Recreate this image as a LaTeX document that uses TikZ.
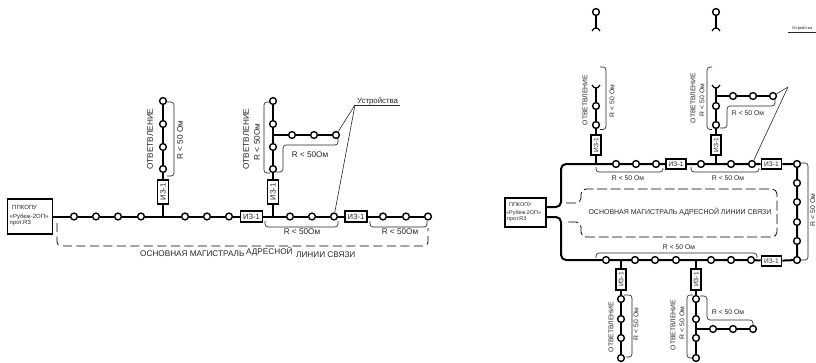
\documentclass[tikz,border=0pt]{standalone}
\usepackage{fontspec}
\setmainfont{Liberation Sans}
\newcommand{\fs}[1]{\fontsize{#1}{#1}\selectfont}
\tikzset{
  dev/.style={circle,draw=black,fill=white,line width=1.4pt,minimum size=6.8pt,inner sep=0pt},
  wire/.style={line width=2pt,draw=black},
  thin wire/.style={line width=0.6pt,draw=black!85},
  brace/.style={line width=0.65pt,draw=black!85,rounded corners=3pt},
  dashline/.style={line width=0.75pt,draw=black,rounded corners=4pt,dash pattern=on 9pt off 4.5pt},
  izbig/.style={draw=black,fill=white,line width=1.6pt,minimum width=22pt,minimum height=11pt,inner sep=0pt,font=\fs{7.6},text=black!85},
  izsmall/.style={draw=black,fill=white,line width=1.6pt,minimum width=20pt,minimum height=10.5pt,inner sep=0pt,font=\fs{6.6},text=black!85},
  panel/.style={draw=black,fill=white,line width=1.3pt,inner sep=0pt},
  lblbig/.style={inner sep=0pt,font=\fs{8.2},text=black!85},
  lblsmall/.style={inner sep=0pt,font=\fs{6.8},text=black!85},
  lbltiny/.style={inner sep=0pt,font=\fs{6},text=black!85,anchor=west},
  lblmini/.style={inner sep=0pt,font=\fs{5.4},text=black!85,anchor=west},
}
\begin{document}
\begin{tikzpicture}[x=1pt,y=-1pt]
\useasboundingbox (0,0) rectangle (816,362);
% ===== left diagram =====
\node[panel,minimum width=44.5pt,minimum height=35pt] (lp) at (30,216.5) {};
\node[lbltiny] (lp1) at (12,207) {ППКОПУ};
\node[lbltiny] (lp2) at (9.5,217) {«Рубеж-2ОП»};
\node[lbltiny] (lp3) at (9.5,223.5) {прот.R3};
\foreach \n/\x/\y in {a1/74/216.5,a2/96/216.5,a3/118/216.5,a4/141/216.5,a5/185/216.5,a6/207/216.5,a7/229/216.5,
  a8/290/216.5,a9/312/216.5,a10/334/216.5,a11/383/216.5,a12/406/216.5,a13/428/216.5,
  b1/163/101,b2/163/124,b3/163/147,b4/163/169,
  c1/273/101,c2/273/124,c3/273/147,c4/273/169,
  d1/292/135,d2/314/135,d3/336/135}
  \node[dev] (\n) at (\x,\y) {};
\node[izbig] (iza) at (251.5,216.5) {ИЗ-1};
\node[izbig] (izb) at (356,216.5) {ИЗ-1};
\node[izbig,rotate=90,minimum width=24pt] (izc) at (163,192) {ИЗ-1};
\node[izbig,rotate=90,minimum width=24pt] (izd) at (273,192) {ИЗ-1};
\coordinate (ja) at (163,216.5);
\coordinate (jb) at (273,216.5);
\coordinate (jc) at (273,135);
\draw[wire] (lp) -- (a1) -- (a2) -- (a3) -- (a4) -- (ja) -- (a5) -- (a6) -- (a7) -- (iza) -- (jb) -- (a8) -- (a9) -- (a10) -- (izb) -- (a11) -- (a12) -- (a13);
\draw[wire] (ja) -- (izc) -- (b4) -- (b3) -- (b2) -- (b1);
\draw[wire] (jb) -- (izd) -- (c4) -- (c3) -- (jc) -- (c2) -- (c1);
\draw[wire] (jc) -- (d1) -- (d2) -- (d3);
\draw[brace] (167,102) -- (174,102) -- (174,176) -- (167,176);
\draw[brace] (270,102) -- (264,102) -- (264,173) -- (270,173);
\draw[brace] (338,138) -- (338,145) -- (283,145) -- (283,172) -- (276,172);
\draw[brace] (265,221) -- (265,227) -- (338,227) -- (338,221);
\draw[brace] (370,221) -- (370,227) -- (427,227) -- (427,221);
\draw[dashline] (57,223) -- (57,246) -- (428,246) -- (428,228);
\node[lblbig,rotate=90] (l1) at (150,139) {ОТВЕТВЛЕНИЕ};
\node[lblbig,rotate=90] (l2) at (180,140) {R < 50 Ом};
\node[lblbig,rotate=90] (l3) at (246,139) {ОТВЕТВЛЕНИЕ};
\node[lblbig,rotate=90] (l4) at (257,142) {R < 50Ом};
\node[lblbig] (l5) at (310,155) {R < 50Ом};
\node[lblbig] (l6) at (302,232) {R < 50Ом};
\node[lblbig] (l7) at (400,232) {R < 50Ом};
\node[lblbig,anchor=west] (l8) at (140,254) {ОСНОВНАЯ МАГИСТРАЛЬ};
\node[lblbig,anchor=west] (l9) at (246,252) {АДРЕСНОЙ};
\node[lblbig,anchor=west] (l10) at (296,254.5) {ЛИНИИ СВЯЗИ};
\node[lblbig,anchor=west,font=\fs{7.8}] (ust) at (357,101.5) {Устройства};
\coordinate (usta) at (355,105);
\coordinate (ustb) at (400,105);
\draw[thin wire] (usta) -- (ustb);
\draw[thin wire] (usta) -- (d3);
\draw[thin wire] (usta) -- (a10);
% ===== right diagram =====
\node[panel,minimum width=41pt,minimum height=29pt] (rp) at (525.5,212.5) {};
\node[lblmini] (rp1) at (509,205) {ППКОПУ};
\node[lblmini] (rp2) at (506,213) {«Рубеж-2ОП»};
\node[lblmini] (rp3) at (507,219.5) {прот.R3};
\foreach \n/\x/\y in {e1/616/164,e2/636/164,e3/656/164,e4/701/164,e5/731/164,e6/752/164,e7/797/164,
  r1/797/183,r2/797/202,r3/797/222,r4/797/241,r5/797/260,
  f1/751/260,f2/731/260,f3/711/260,f4/676/260,f5/655/260,f6/635/260,f7/606/260,
  g1/596/12,g2/716/12,
  h1/596/106,h2/596/125,i1/716/106,i2/716/125,
  k1/733/96,k2/753/96,k3/773/96,
  m1/621/299,m2/621/319,m3/621/338,m4/621/358,
  n1/696/299,n2/696/319,n3/696/338,n4/696/358,
  o1/713/329,o2/733/329,o3/753/329}
  \node[dev] (\n) at (\x,\y) {};
\node[izsmall] (ize) at (676,164) {ИЗ-1};
\node[izsmall] (izf) at (771.5,164) {ИЗ-1};
\node[izsmall] (izg) at (771.5,261) {ИЗ-1};
\node[izsmall,rotate=90,minimum width=20.5pt] (izh) at (596,145) {ИЗ-1};
\node[izsmall,rotate=90,minimum width=20.5pt] (izi) at (716,145) {ИЗ-1};
\node[izsmall,rotate=90,minimum width=20.5pt] (izj) at (621,279.5) {ИЗ-1};
\node[izsmall,rotate=90,minimum width=20.5pt] (izk) at (696,279.5) {ИЗ-1};
\coordinate (ra) at (546,207);
\coordinate (rb) at (546,217);
\coordinate (rc) at (561,164);
\coordinate (rd) at (561,260);
\coordinate (rca) at (561,207);
\coordinate (rda) at (561,217);
\coordinate (je) at (596,164);
\coordinate (jf) at (716,164);
\coordinate (jg) at (621,260);
\coordinate (jh) at (696,260);
\coordinate (ji) at (716,96);
\coordinate (jj) at (696,329);
\coordinate (fa) at (596,88);
\coordinate (fb) at (716,88);
\coordinate (fc) at (596,28);
\coordinate (fd) at (716,28);
\draw[wire,rounded corners=5pt] (ra) -- (rca) -- (rc) -- (je);
\draw[wire,rounded corners=5pt] (rb) -- (rda) -- (rd) -- (f7);
\draw[wire] (je) -- (e1) -- (e2) -- (e3) -- (ize) -- (e4) -- (jf) -- (e5) -- (e6) -- (izf) -- (e7) -- (r1) -- (r2) -- (r3) -- (r4) -- (r5) -- (izg) -- (f1) -- (f2) -- (f3) -- (jh) -- (f4) -- (f5) -- (f6) -- (jg) -- (f7);
\draw[wire] (je) -- (izh) -- (h2) -- (h1) -- (fa);
\draw[wire] (jf) -- (izi) -- (i2) -- (i1) -- (ji) -- (fb);
\draw[wire] (ji) -- (k1) -- (k2) -- (k3);
\draw[wire] (jg) -- (izj) -- (m1) -- (m2) -- (m3) -- (m4);
\draw[wire] (jh) -- (izk) -- (n1) -- (n2) -- (jj) -- (n3) -- (n4);
\draw[wire] (jj) -- (o1) -- (o2) -- (o3);
\draw[wire] (g1) -- (fc);
\draw[wire] (g2) -- (fd);
\foreach \c in {fc,fd} \draw[line width=1.2pt] ([xshift=-4pt,yshift=-3pt]\c) .. controls ([xshift=-3pt,yshift=-0.5pt]\c) and ([xshift=-1pt]\c) .. (\c) .. controls ([xshift=1pt]\c) and ([xshift=3pt,yshift=-0.5pt]\c) .. ([xshift=4pt,yshift=-3pt]\c);
\foreach \c in {fa,fb} \draw[line width=1.2pt] ([xshift=-4pt,yshift=3pt]\c) .. controls ([xshift=-3pt,yshift=0.5pt]\c) and ([xshift=-1pt]\c) .. (\c) .. controls ([xshift=1pt]\c) and ([xshift=3pt,yshift=0.5pt]\c) .. ([xshift=4pt,yshift=3pt]\c);
\draw[brace] (600,67) -- (606,67) -- (606,129.5) -- (600,129.5);
\draw[brace] (712,67) -- (707,67) -- (707,129.5) -- (712,129.5);
\draw[brace] (775,99) -- (775,106) -- (727,106) -- (727,128) -- (720,128);
\draw[brace] (596,167) -- (596,172) -- (663,172) -- (663,168);
\draw[brace] (691,167) -- (691,172) -- (759,172) -- (759,168);
\draw[brace] (800,163) -- (808,163) -- (808,260) -- (801,260);
\draw[brace] (596,258) -- (596,253) -- (757,253) -- (757,258);
\draw[brace] (624,295) -- (632,295) -- (632,357) -- (626,357);
\draw[brace] (693,295) -- (687,295) -- (687,358) -- (692,358);
\draw[brace] (700,296) -- (707,296) -- (707,320) -- (753,320) -- (753,325);
\draw[dashline,rounded corners=5pt,dash pattern=on 10pt off 3.5pt] (566,203) -- (581,203) -- (581,189) -- (777,189) -- (777,237) -- (581,237) -- (581,222) -- (566,222);
\node[lblsmall,font=\fs{7}] (t1) at (680,212) {ОСНОВНАЯ МАГИСТРАЛЬ АДРЕСНОЙ ЛИНИИ СВЯЗИ};
\node[lblsmall,rotate=90] (t2) at (585,100) {ОТВЕТВЛЕНИЕ};
\node[lblsmall,rotate=90] (t3) at (612,101) {R < 50 Ом};
\node[lblsmall,rotate=90] (t4) at (693,98) {ОТВЕТВЛЕНИЕ};
\node[lblsmall,rotate=90] (t5) at (702,100) {R < 50 Ом};
\node[lblsmall] (t6) at (748,113.5) {R < 50 Ом};
\node[lblsmall] (t7) at (628,178) {R < 50 Ом};
\node[lblsmall] (t8) at (728,178) {R < 50 Ом};
\node[lblsmall,rotate=90] (t9) at (812.8,210) {R < 50 Ом};
\node[lblsmall] (t10) at (679,247.5) {R < 50 Ом};
\node[lblsmall,rotate=90] (t11) at (611,327) {ОТВЕТВЛЕНИЕ};
\node[lblsmall,rotate=90] (t12) at (636,324) {R < 50 Ом};
\node[lblsmall,rotate=90] (t13) at (673,325) {ОТВЕТВЛЕНИЕ};
\node[lblsmall,rotate=90] (t14) at (682,323) {R < 50 Ом};
\node[lblsmall] (t15) at (728,312) {R < 50 Ом};
\node[inner sep=0pt,font=\fs{3.9},text=black!85] (t16) at (802,28.5) {Устройства};
\coordinate (uh) at (788,32);
\coordinate (ui) at (816,32);
\draw[thin wire] (uh) -- (ui);
\coordinate (uk) at (788,87);
\draw[thin wire] (uk) -- (k3);
\draw[thin wire] (uk) -- (e6);
\end{tikzpicture}
\end{document}
